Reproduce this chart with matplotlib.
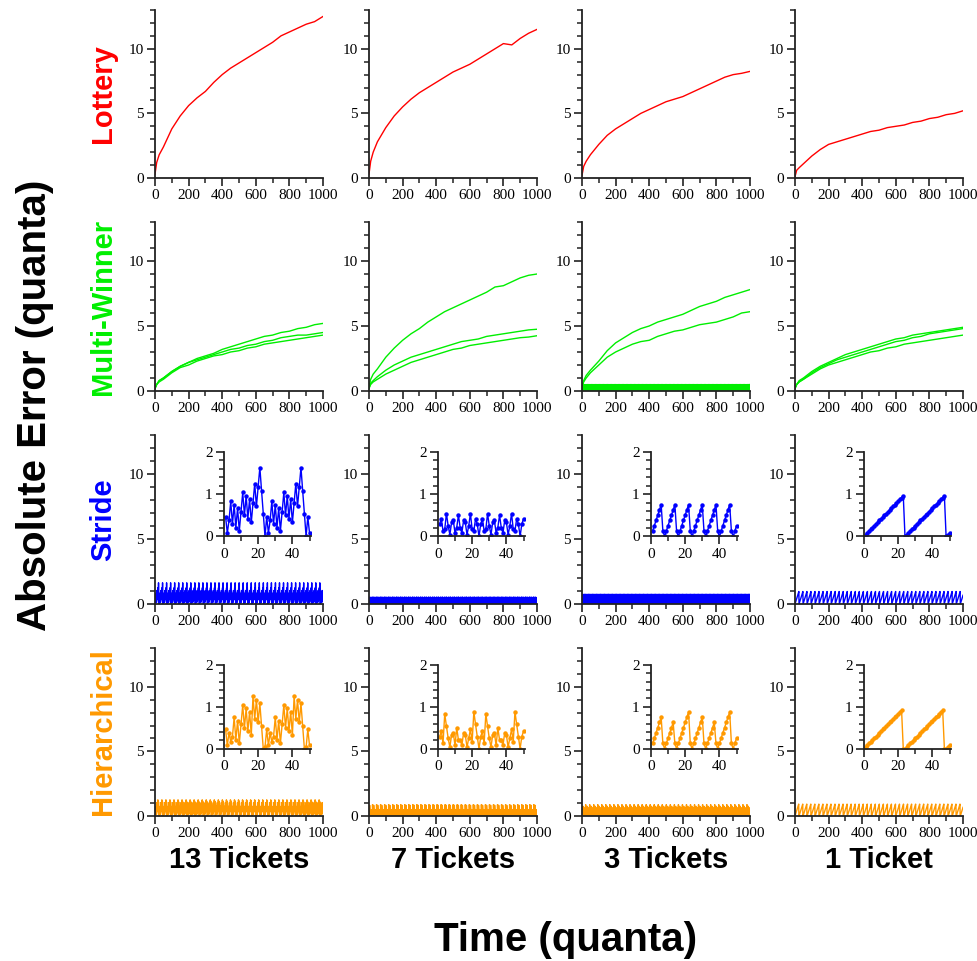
import numpy as np
import matplotlib
matplotlib.use("Agg")
import matplotlib.pyplot as plt
from matplotlib.ticker import MultipleLocator

# ---------------- data ----------------
columns = ["13 Tickets", "7 Tickets", "3 Tickets", "1 Ticket"]
rows = ["Lottery", "Multi-Winner", "Stride", "Hierarchical"]
row_colors = ["#ff0000", "#00ee00", "#0000ff", "#ff9900"]

times = [0, 10, 25, 50, 100, 150, 200, 250, 300, 350, 400, 450, 500,
         550, 600, 650, 700, 750, 800, 850, 900, 950, 1000]

lottery_13 = [0.3, 1.2, 1.8, 2.4, 3.8, 4.8, 5.6, 6.2, 6.7, 7.4, 8.0, 8.5, 8.9,
              9.3, 9.7, 10.1, 10.5, 11.0, 11.3, 11.6, 11.9, 12.1, 12.5]
lottery_7 = [0.3, 1.3, 2.0, 2.8, 3.9, 4.8, 5.5, 6.1, 6.6, 7.0, 7.4, 7.8, 8.2,
             8.5, 8.8, 9.2, 9.6, 10.0, 10.4, 10.3, 10.8, 11.2, 11.5]
lottery_3 = [0.2, 0.9, 1.3, 1.8, 2.6, 3.3, 3.8, 4.2, 4.6, 5.0, 5.3, 5.6, 5.9,
             6.1, 6.3, 6.6, 6.9, 7.2, 7.5, 7.8, 8.0, 8.1, 8.25]
lottery_1 = [0.1, 0.6, 0.8, 1.1, 1.7, 2.2, 2.6, 2.8, 3.0, 3.2, 3.4, 3.6, 3.7,
             3.9, 4.0, 4.1, 4.3, 4.4, 4.6, 4.7, 4.9, 5.0, 5.2]

multi_13_a = [0.2, 0.5, 0.8, 1.0, 1.5, 1.9, 2.2, 2.5, 2.7, 2.9, 3.2, 3.4, 3.6,
              3.8, 4.0, 4.2, 4.3, 4.5, 4.6, 4.8, 4.9, 5.1, 5.2]
multi_13_b = [0.2, 0.5, 0.8, 1.0, 1.5, 1.9, 2.2, 2.4, 2.6, 2.8, 3.0, 3.2, 3.3,
              3.5, 3.6, 3.8, 3.9, 4.1, 4.2, 4.3, 4.3, 4.4, 4.5]
multi_13_c = [0.2, 0.5, 0.7, 0.9, 1.4, 1.8, 2.0, 2.3, 2.5, 2.7, 2.8, 3.0, 3.1,
              3.3, 3.4, 3.6, 3.7, 3.8, 3.9, 4.0, 4.1, 4.2, 4.3]
multi_7_a = [0.3, 0.9, 1.3, 1.7, 2.6, 3.3, 3.9, 4.4, 4.8, 5.3, 5.7, 6.1, 6.4,
             6.7, 7.0, 7.3, 7.6, 8.0, 8.1, 8.4, 8.7, 8.9, 9.0]
multi_7_b = [0.2, 0.6, 0.8, 1.1, 1.6, 2.0, 2.3, 2.6, 2.8, 3.0, 3.2, 3.4, 3.6,
             3.8, 3.9, 4.0, 4.2, 4.3, 4.4, 4.5, 4.6, 4.7, 4.75]
multi_7_c = [0.2, 0.5, 0.7, 0.9, 1.3, 1.6, 1.9, 2.2, 2.4, 2.6, 2.8, 3.0, 3.2,
             3.3, 3.5, 3.6, 3.7, 3.8, 3.9, 4.0, 4.1, 4.15, 4.25]
multi_3_a = [0.3, 0.8, 1.2, 1.6, 2.3, 3.1, 3.7, 4.1, 4.5, 4.8, 5.0, 5.3, 5.5,
             5.7, 5.9, 6.2, 6.5, 6.7, 6.9, 7.2, 7.4, 7.6, 7.8]
multi_3_b = [0.3, 0.7, 1.0, 1.4, 2.0, 2.6, 3.0, 3.3, 3.6, 3.8, 3.9, 4.2, 4.4,
             4.6, 4.7, 4.9, 5.1, 5.2, 5.3, 5.5, 5.7, 6.0, 6.1]
multi_3_band = [0.38, 0.25, 0.13, 0.00, 0.13, 0.25, 0.38, 0.50]
multi_1_a = [0.2, 0.5, 0.8, 1.0, 1.5, 1.9, 2.2, 2.5, 2.8, 3.0, 3.2, 3.4, 3.6,
             3.8, 4.0, 4.1, 4.3, 4.4, 4.5, 4.6, 4.7, 4.8, 4.9]
multi_1_b = [0.2, 0.5, 0.7, 0.9, 1.4, 1.8, 2.1, 2.4, 2.6, 2.8, 3.0, 3.2, 3.4,
             3.6, 3.8, 3.9, 4.1, 4.2, 4.4, 4.5, 4.6, 4.7, 4.8]
multi_1_c = [0.2, 0.5, 0.7, 0.9, 1.3, 1.7, 2.0, 2.2, 2.4, 2.6, 2.8, 3.0, 3.1,
             3.3, 3.4, 3.6, 3.7, 3.8, 3.9, 4.0, 4.1, 4.2, 4.3]

# one 24-quantum period of the deterministic schedulers (quanta 1..24)
stride_13 = [0.46, 0.08, 0.38, 0.83, 0.29, 0.75, 0.21, 0.67, 0.13, 0.58, 1.04, 0.50,
             0.96, 0.42, 0.88, 0.33, 0.79, 1.25, 0.71, 1.17, 1.63, 1.08, 0.54, 0.00]
stride_7 = [0.29, 0.42, 0.13, 0.17, 0.54, 0.25, 0.04, 0.33, 0.38, 0.08, 0.21, 0.50,
            0.21, 0.08, 0.38, 0.33, 0.04, 0.25, 0.54, 0.17, 0.13, 0.42, 0.29, 0.00]
stride_3 = [0.13, 0.25, 0.38, 0.50, 0.63, 0.75, 0.13, 0.00,
            0.13, 0.25, 0.38, 0.50, 0.63, 0.75, 0.13, 0.00,
            0.13, 0.25, 0.38, 0.50, 0.63, 0.75, 0.13, 0.00]
stride_1 = [0.04, 0.08, 0.13, 0.17, 0.21, 0.25, 0.29, 0.33, 0.38, 0.42, 0.46, 0.50,
            0.54, 0.58, 0.63, 0.67, 0.71, 0.75, 0.79, 0.83, 0.88, 0.92, 0.96, 0.00]
hier_13 = [0.46, 0.08, 0.38, 0.17, 0.29, 0.75, 0.21, 0.67, 0.13, 0.58, 1.04, 0.50,
           0.96, 0.42, 0.88, 0.33, 1.25, 0.71, 1.17, 0.63, 1.08, 0.54, 0.00, 0.04]
hier_7 = [0.29, 0.42, 0.13, 0.83, 0.54, 0.25, 0.04, 0.33, 0.38, 0.08, 0.50, 0.21,
          0.21, 0.08, 0.38, 0.33, 0.04, 0.25, 0.46, 0.17, 0.88, 0.58, 0.29, 0.00]
hier_3 = [0.13, 0.25, 0.38, 0.50, 0.63, 0.75, 0.13, 0.00,
          0.13, 0.25, 0.38, 0.50, 0.63, 0.13, 0.00,
          0.13, 0.25, 0.38, 0.50, 0.63, 0.75, 0.88, 0.13, 0.00]
hier_1 = [0.04, 0.08, 0.13, 0.17, 0.21, 0.25, 0.29, 0.33, 0.38, 0.42, 0.46, 0.50,
          0.54, 0.58, 0.63, 0.67, 0.71, 0.75, 0.79, 0.83, 0.88, 0.92, 0.00, 0.00]

n_quanta = 1000
inset_len = 50

lottery = [lottery_13, lottery_7, lottery_3, lottery_1]
multi = [[multi_13_a, multi_13_b, multi_13_c],
         [multi_7_a, multi_7_b, multi_7_c],
         [multi_3_a, multi_3_b],
         [multi_1_a, multi_1_b, multi_1_c]]
stride = [stride_13, stride_7, stride_3, stride_1]
hier = [hier_13, hier_7, hier_3, hier_1]

# ---------------- figure ----------------
W, H = 978, 961
fig = plt.figure(figsize=(W / 100, H / 100), dpi=100)
serif = "Liberation Serif"
sans = "Liberation Sans"
spine_c = "#222222"

col_x = [155, 369, 582, 795]
ax_w = 168
row_y = [(10, 178), (222, 391), (435, 604), (648, 816)]


def style(ax, xmaj, xmin, ymaj, ymin):
    for s in ["top", "right"]:
        ax.spines[s].set_visible(False)
    for s in ["left", "bottom"]:
        ax.spines[s].set_linewidth(1.3)
        ax.spines[s].set_color(spine_c)
    ax.xaxis.set_major_locator(MultipleLocator(xmaj))
    ax.xaxis.set_minor_locator(MultipleLocator(xmin))
    ax.yaxis.set_major_locator(MultipleLocator(ymaj))
    ax.yaxis.set_minor_locator(MultipleLocator(ymin))
    ax.tick_params(which="major", direction="out", length=6, width=1.2,
                   color=spine_c, labelsize=11, pad=2)
    ax.tick_params(which="minor", direction="out", length=3.5, width=1.1,
                   color=spine_c)
    for lab in ax.get_xticklabels() + ax.get_yticklabels():
        lab.set_fontfamily(serif)


for r in range(4):
    y0, y1 = row_y[r]
    for c in range(4):
        left = col_x[c] / W
        bottom = 1 - y1 / H
        ax = fig.add_axes([left, bottom, ax_w / W, (y1 - y0) / H])
        color = row_colors[r]
        if r == 0:
            ax.plot(times, lottery[c], color=color, lw=1.0)
        elif r == 1:
            for s in multi[c]:
                ax.plot(times, s, color=color, lw=1.0)
            if c == 2:
                tq = np.arange(1, n_quanta + 1)
                ax.plot(tq, np.resize(multi_3_band, n_quanta), color=color, lw=1.0)
        else:
            pat = stride[c] if r == 2 else hier[c]
            tq = np.arange(1, n_quanta + 1)
            series = np.resize(pat, n_quanta)
            ax.plot(tq, series, color=color, lw=1.0)
        ax.set_xlim(0, 1000)
        ax.set_ylim(0, 13)
        style(ax, 200, 100, 5, 1)

        if r >= 2:
            ins = ax.inset_axes([0.41, 0.40, 0.52, 0.50])
            ti = np.arange(1, inset_len + 1)
            ins.plot(ti, series[:inset_len], color=color, lw=1.0,
                     marker="o", markersize=2.2)
            ins.set_xlim(0, 51)
            ins.set_ylim(0, 2)
            ins.patch.set_alpha(0)
            style(ins, 20, 10, 1, 0.2)

# row labels
for r in range(4):
    y0, y1 = row_y[r]
    fig.text(103 / W, 1 - (y0 + y1) / 2 / H, rows[r], rotation=90,
             ha="center", va="center", color=row_colors[r],
             fontsize=21, fontweight="bold", family=sans)

# column labels
for c in range(4):
    fig.text((col_x[c] + ax_w / 2) / W, 1 - 860 / H, columns[c],
             ha="center", va="center", fontsize=21, fontweight="bold",
             family=sans)

fig.text(566 / W, 1 - 940 / H, "Time (quanta)", ha="center", va="center",
         fontsize=29, fontweight="bold", family=sans)
fig.text(35 / W, 1 - 405 / H, "Absolute Error (quanta)", rotation=90,
         ha="center", va="center", fontsize=29, fontweight="bold", family=sans)

fig.savefig("out.png", dpi=100)
